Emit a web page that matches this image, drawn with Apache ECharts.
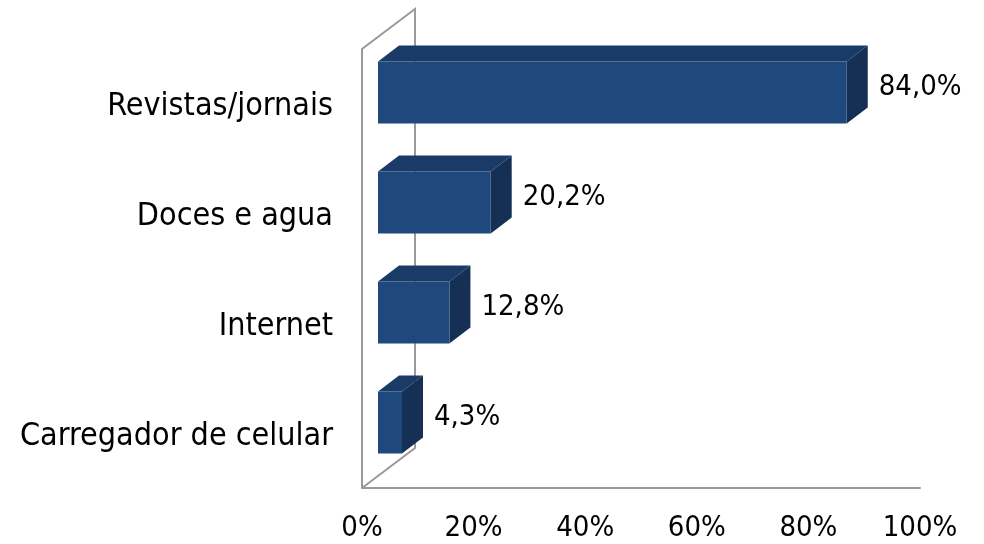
<!DOCTYPE html>
<html>
<head>
<meta charset="utf-8">
<script src="https://cdn.jsdelivr.net/npm/echarts@6/dist/echarts.min.js"></script>
<style>
html,body{margin:0;padding:0;background:#fff;}
#chart{width:984px;height:544px;}
</style>
</head>
<body>
<div id="chart"></div>
<script>
// Data (top to bottom)
const categories = ['Revistas/jornais', 'Doces e agua', 'Internet', 'Carregador de celular'];
const values = [84.0, 20.2, 12.8, 4.3];
const valueLabels = ['84,0%', '20,2%', '12,8%', '4,3%'];
const xTickValues = [0, 20, 40, 60, 80, 100];

const FONT = "'DejaVu Sans Condensed', 'DejaVu Sans', sans-serif";
const FRONT = '#1f487c';
const TOP = '#1a3b68';
const SIDE = '#162f55';
const WALL = '#9a9a9a';

const chart = echarts.init(document.getElementById('chart'), null, {renderer: 'canvas'});

const barData = values.map((v, i) => [v, i, valueLabels[i]]);

function renderBar(params, api) {
  const idx = api.value(1);
  const p0 = api.coord([0, idx]);
  const p1 = api.coord([api.value(0), idx]);
  const shift = 16, dx = 21, dy = -16, h = 62;
  const cy = p0[1] - 14.5;
  const left = p0[0] + shift;
  const right = p1[0] + shift;
  const top = cy - h / 2, bottom = cy + h / 2;
  return {
    type: 'group',
    children: [
      { type: 'polygon', shape: { points: [[left, top], [left + dx, top + dy], [right + dx, top + dy], [right, top]] }, style: { fill: TOP } },
      { type: 'polygon', shape: { points: [[right, top], [right + dx, top + dy], [right + dx, bottom + dy], [right, bottom]] }, style: { fill: SIDE } },
      { type: 'rect', shape: { x: left, y: top, width: right - left, height: h }, style: { fill: FRONT } },
      { type: 'text', style: { text: api.value(2), x: right + dx + 11, y: cy + dy / 2 + 3, textVerticalAlign: 'middle', textAlign: 'left', font: '29px ' + FONT, fill: '#000' } }
    ]
  };
}

function renderWall(params, api) {
  const cs = params.coordSys;
  const x0 = api.coord([0, 0])[0];
  const floorY = cs.y + cs.height - 4;
  const topY = cs.y - 3;
  const bx = 53, by = -40;
  return {
    type: 'polyline',
    shape: { points: [[x0, floorY], [x0, topY], [x0 + bx, topY + by], [x0 + bx, floorY + by], [x0, floorY]] },
    style: { stroke: WALL, lineWidth: 2, fill: null }
  };
}

chart.setOption({
  animation: false,
  grid: { left: 362, right: 64, top: 52, bottom: 52 },
  xAxis: {
    type: 'value', min: 0, max: 100, interval: 20, offset: -4,
    axisLine: { show: true, lineStyle: { color: WALL, width: 2 } },
    axisTick: { show: false },
    splitLine: { show: false },
    axisLabel: { formatter: v => xTickValues.includes(v) ? v + '%' : '', color: '#000', fontSize: 29, fontFamily: FONT, margin: 26 }
  },
  yAxis: {
    type: 'category', data: categories, inverse: true,
    axisLine: { show: false }, axisTick: { show: false }, splitLine: { show: false },
    axisLabel: { color: '#000', fontSize: 32, fontFamily: FONT, margin: 29 }
  },
  series: [
    { type: 'custom', renderItem: renderWall, data: [[0, 0]], z: 1, silent: true },
    { type: 'custom', renderItem: renderBar, data: barData, encode: { x: 0, y: 1 }, z: 2 }
  ]
});
</script>
</body>
</html>
